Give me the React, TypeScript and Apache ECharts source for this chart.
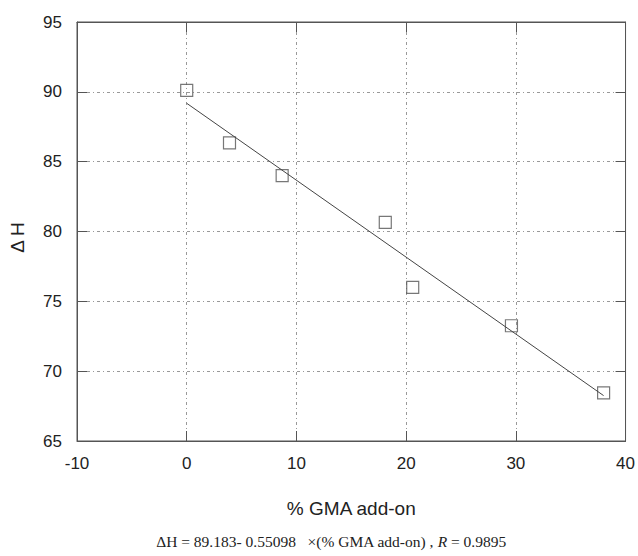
import React, { useEffect, useRef } from "react";
import * as echarts from "echarts";

const gmaAddOn = [0, 3.9, 8.7, 18.1, 20.6, 29.6, 38.0];
const deltaH = [90.1, 86.35, 84.0, 80.65, 76.0, 73.25, 68.45];
const fitX = [0, 38];
const fitY = [89.18, 68.25];
const xTicks = { min: -10, max: 40, interval: 10 };
const yTicks = { min: 65, max: 95, interval: 5 };
const equationText = "ΔH = 89.183- 0.55098   ×(% GMA add-on) , ";

export default function App() {
  const ref = useRef<HTMLDivElement>(null);
  useEffect(() => {
    if (!ref.current) return;
    const chart = echarts.init(ref.current, null, { renderer: "svg" });
    const axisColor = "#555";
    const sans = "Liberation Sans";
    const splitLine = {
      show: true,
      lineStyle: { color: "#999", width: 1, type: [3, 3, 1, 3] },
    };
    const tick = { show: true, inside: true, length: 10, lineStyle: { color: axisColor } };
    const line = { show: true, onZero: false, lineStyle: { color: axisColor } };
    chart.setOption({
      animation: false,
      backgroundColor: "#fff",
      grid: { left: 77, right: 10, top: 22, bottom: 115, show: true, borderColor: axisColor, borderWidth: 1 },
      xAxis: [
        {
          type: "value",
          ...xTicks,
          position: "bottom",
          name: "% GMA add-on",
          nameLocation: "middle",
          nameGap: 58,
          nameTextStyle: { fontFamily: sans, fontSize: 19, color: "#222" },
          axisLine: line,
          axisTick: tick,
          axisLabel: { fontFamily: sans, fontSize: 17, color: "#222", margin: 14 },
          splitLine,
        },
        {
          type: "value",
          ...xTicks,
          position: "top",
          axisLine: line,
          axisTick: tick,
          axisLabel: { show: false },
          splitLine: { show: false },
        },
      ],
      yAxis: [
        {
          type: "value",
          ...yTicks,
          position: "left",
          name: "Δ H",
          nameLocation: "middle",
          nameGap: 50,
          nameTextStyle: { fontFamily: sans, fontSize: 19, color: "#222", padding: [0, 12, 0, 0] },
          axisLine: line,
          axisTick: tick,
          axisLabel: { fontFamily: sans, fontSize: 17, color: "#222", margin: 15 },
          splitLine,
        },
        {
          type: "value",
          ...yTicks,
          position: "right",
          axisLine: line,
          axisTick: tick,
          axisLabel: { show: false },
          splitLine: { show: false },
        },
      ],
      series: [
        {
          type: "line",
          data: fitX.map((x, i) => [x, fitY[i]]),
          symbol: "none",
          lineStyle: { color: "#444", width: 1 },
          silent: true,
        },
        {
          type: "scatter",
          data: gmaAddOn.map((x, i) => [x, deltaH[i]]),
          symbol: "rect",
          symbolSize: 12,
          itemStyle: { color: "rgba(0,0,0,0)", borderColor: "#555", borderWidth: 1.2 },
        },
      ],
      graphic: [
        {
          type: "text",
          x: 331,
          y: 541,
          style: {
            text: "{n|" + equationText + "}{i|R}{n| = 0.9895}",
            align: "center",
            verticalAlign: "middle",
            rich: {
              n: { fontFamily: "Liberation Serif", fontSize: 15.5, fill: "#222" },
              i: { fontFamily: "Liberation Serif", fontSize: 15.5, fontStyle: "italic", fill: "#222" },
            },
          },
        },
      ],
    });
    return () => chart.dispose();
  }, []);
  return <div ref={ref} style={{ width: 638, height: 556, position: "absolute", left: 0, top: 0 }} />;
}
